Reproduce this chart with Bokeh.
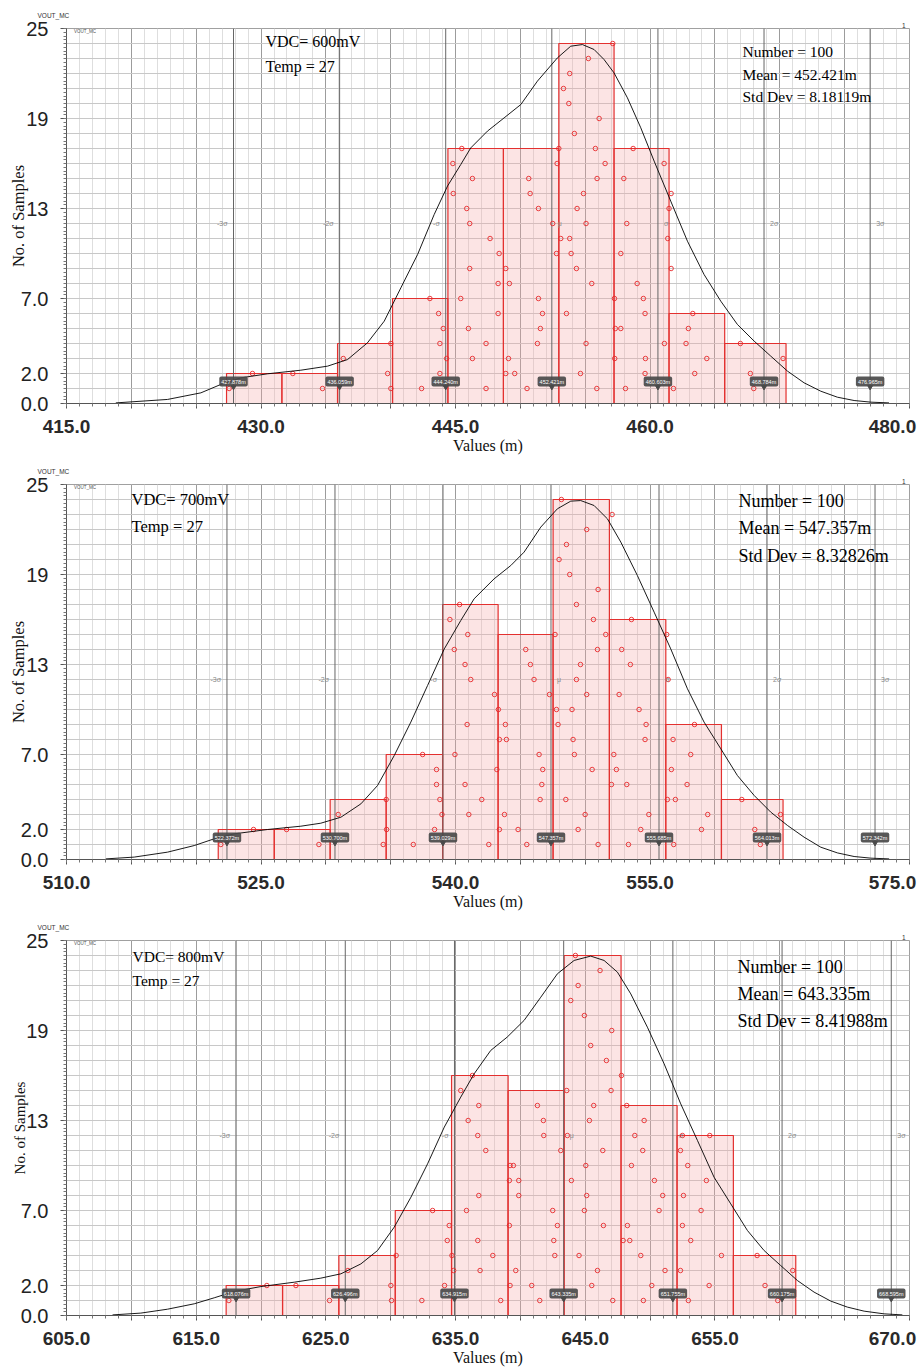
import math
from bokeh.plotting import figure
from bokeh.models import FixedTicker, Label, Range1d, Title, Legend, LegendItem
from bokeh.layouts import column
from bokeh.embed import file_html
from bokeh.resources import INLINE

# ---------------- shared ----------------
y_ticks = [0, 2, 7, 13, 19, 25]
y_tick_text = ["0.0", "2.0", "7.0", "13", "19", "25"]
sigma_k = [-3, -2, -1, 0, 1, 2, 3]
sigma_names = ["-3σ", "-2σ", "-σ", "μ", "σ", "2σ", "3σ"]
temp_text = "Temp = 27"
series_name = "VOUT_MC"
number_of_samples = 100

# ---------------- panel 1 : VDC 600 mV ----------------
p1_xrange = [415, 480]
p1_xtick_labels = [415, 430, 445, 460, 480]
p1_vdc = "VDC= 600mV"
p1_mean = 452.421
p1_std = 8.18119
p1_mean_text = "452.421m"
p1_std_text = "8.18119m"
p1_marker_text = ["427.878m", "436.059m", "444.240m", "452.421m", "460.603m", "468.784m", "476.965m"]
p1_bin_edges = [427.34, 431.61, 435.90, 440.14, 444.41, 448.69, 452.96, 457.22, 461.46, 465.75, 470.48]
p1_counts = [2, 2, 4, 7, 17, 17, 24, 17, 6, 4]
p1_pts_x = [429.34, 427.54,
            432.45, 434.74,
            436.34, 440.01, 439.76, 440.01,
            443.02, 443.69, 444.05, 443.79, 444.31, 443.79, 442.38,
            445.48, 444.79, 446.30, 444.82, 445.86, 446.09, 447.66, 448.36, 446.09, 448.28, 445.40, 448.28, 445.99, 447.35, 446.30, 447.35,
            452.96, 452.83, 450.64, 450.75, 451.39, 452.49, 452.78, 448.87, 449.15, 451.39, 451.70, 451.54, 451.31, 449.08, 448.87, 449.56, 450.51,
            457.12, 455.24, 453.80, 453.32, 453.73, 456.07, 454.16, 455.78, 456.53, 455.91, 454.86, 454.37, 455.06, 453.11, 453.80, 453.91, 454.32, 455.50, 453.55, 455.06, 454.63, 455.89,
            458.69, 461.08, 457.97, 461.62, 461.46, 458.20, 461.36, 457.74, 461.62, 459.00, 459.48, 457.25, 459.61, 457.32, 457.74, 461.10, 457.27, 459.64, 459.61, 458.10,
            463.29, 462.95, 462.77, 464.37, 463.44, 461.80,
            466.96, 470.25, 467.73, 467.99]
p1_pts_y = [2, 1,
            2, 1,
            3, 4, 2, 1,
            7, 6, 5, 4, 3, 2, 1,
            17, 16, 15, 14, 13, 12, 11, 10, 9, 8, 7, 6, 5, 4, 3, 1,
            17, 16, 15, 14, 13, 12, 10, 9, 8, 7, 6, 5, 4, 3, 2, 2, 1,
            24, 23, 22, 21, 20, 19, 18, 17, 16, 15, 14, 13, 12, 11, 11, 10, 9, 8, 6, 4, 2, 1,
            17, 16, 15, 14, 13, 12, 11, 10, 9, 8, 7, 7, 6, 5, 5, 4, 3, 3, 2, 1,
            6, 5, 4, 3, 2, 1,
            4, 3, 2, 1]
p1_curve_x = [418.8, 422.79, 425.36, 426.9, 428.44, 430.5, 433.07, 435.13, 436.67, 438.2, 439.5, 440.78,
              442.07, 443.35, 444.38, 445.40, 446.17, 447.46, 448.74, 450.03, 451.31, 452.85, 453.88, 454.78,
              455.68, 456.45, 457.22, 458.25, 459.28, 460.31, 461.59, 462.88, 464.16, 465.45, 466.73, 468.02,
              469.30, 470.59, 471.87, 473.16, 474.44, 475.73, 477.01, 478.42]
p1_curve_y = [0.04, 0.27, 0.71, 1.27, 1.71, 1.98, 2.22, 2.49, 2.93, 4.04, 5.49, 7.71,
              9.93, 12.6, 14.5, 15.93, 17.04, 18.16, 19.04, 19.93, 21.49, 23.04, 23.82, 23.93,
              23.6, 22.93, 22.04, 20.38, 18.38, 16.16, 13.49, 10.82, 8.6, 6.82, 5.27, 4.16,
              3.16, 2.16, 1.38, 0.82, 0.42, 0.2, 0.09, 0.04]

# ---------------- panel 2 : VDC 700 mV ----------------
p2_xrange = [510, 575]
p2_xtick_labels = [510, 525, 540, 555, 575]
p2_vdc = "VDC= 700mV"
p2_mean = 547.357
p2_std = 8.32826
p2_mean_text = "547.357m"
p2_std_text = "8.32826m"
p2_marker_text = ["522.372m", "530.700m", "539.029m", "547.357m", "555.685m", "564.013m", "572.342m"]
p2_bin_edges = [521.70, 526.02, 530.33, 534.65, 539.00, 543.28, 547.52, 551.86, 556.21, 560.50, 565.25]
p2_counts = [2, 2, 4, 7, 17, 15, 24, 16, 9, 4]
p2_pts_x = [524.42, 521.90,
            526.97, 529.46,
            530.95, 534.65, 534.68, 534.42,
            537.46, 538.53, 538.53, 538.79, 538.95, 538.38, 536.74,
            540.31, 539.56, 540.94, 539.90, 540.73, 541.17, 543.00, 540.89, 539.95, 543.18, 540.73, 542.02, 541.02, 542.56,
            545.41, 545.77, 546.05, 547.24, 543.30, 543.84, 543.38, 543.92, 546.44, 546.72, 546.65, 546.52, 543.77, 543.38, 544.82, 545.49,
            548.16, 552.07, 550.11, 548.55, 547.98, 548.80, 550.99, 549.32, 550.63, 551.58, 547.67, 550.94, 549.63, 549.32, 550.11, 547.78, 548.98, 547.90, 549.06, 549.16, 550.53, 548.50, 549.99, 549.45, 550.99,
            553.56, 556.28, 552.81, 553.48, 556.39, 552.61, 554.15, 554.69, 554.61, 552.20, 552.40, 552.02, 553.20, 554.90, 554.28, 553.33,
            558.42, 556.77, 558.13, 556.64, 557.85, 556.33, 556.95, 559.44, 558.96, 556.82,
            562.07, 565.05, 563.07, 563.50]
p2_pts_y = [2, 1,
            2, 1,
            3, 4, 2, 1,
            7, 6, 5, 4, 3, 2, 1,
            17, 16, 15, 14, 13, 12, 11, 9, 7, 6, 5, 4, 3, 1,
            14, 13, 12, 11, 10, 9, 8, 8, 7, 6, 5, 4, 3, 2, 2, 1,
            24, 23, 22, 21, 20, 19, 18, 17, 16, 15, 15, 14, 13, 12, 11, 10, 10, 9, 8, 7, 6, 4, 3, 2, 1,
            16, 15, 14, 13, 12, 11, 10, 9, 8, 7, 6, 5, 5, 3, 2, 1,
            9, 8, 7, 6, 5, 4, 4, 3, 2, 1,
            4, 3, 2, 1]
p2_curve_x = [513.03, 515.22, 517.79, 519.85, 521.39, 522.93, 525.50, 528.07, 529.61, 531.16, 532.70, 533.98,
              535.27, 536.55, 537.84, 539.13, 540.40, 541.43, 542.97, 544.26, 545.28, 546.57, 547.85, 548.88,
              549.65, 550.68, 551.71, 552.74, 554.02, 555.31, 556.59, 557.88, 559.16, 560.45, 561.73, 563.02,
              564.30, 565.59, 566.87, 568.16, 569.44, 570.73, 572.01, 573.43]
p2_curve_y = [0.04, 0.16, 0.49, 0.93, 1.38, 1.71, 2.0, 2.22, 2.42, 2.82, 3.71, 4.93,
              6.93, 9.16, 11.6, 14.04, 15.93, 17.38, 18.71, 19.6, 20.49, 22.16, 23.38, 23.89,
              23.93, 23.6, 22.71, 21.16, 18.93, 16.49, 14.04, 11.38, 9.16, 7.38, 5.6, 4.27,
              3.16, 2.27, 1.49, 0.82, 0.44, 0.2, 0.09, 0.04]

# ---------------- panel 3 : VDC 800 mV ----------------
p3_xrange = [605, 670]
p3_xtick_labels = [605, 615, 625, 635, 645, 655, 670]
p3_vdc = "VDC= 800mV"
p3_mean = 643.335
p3_std = 8.41988
p3_mean_text = "643.335m"
p3_std_text = "8.41988m"
p3_marker_text = ["618.076m", "626.496m", "634.915m", "643.335m", "651.755m", "660.175m", "668.595m"]
p3_bin_edges = [617.31, 621.66, 626.00, 630.35, 634.69, 639.05, 643.37, 647.76, 652.08, 656.42, 661.23]
p3_counts = [2, 2, 4, 7, 16, 15, 24, 14, 12, 4]
p3_pts_x = [620.45, 617.52,
            622.69, 625.28,
            626.70, 630.42, 630.01, 630.06,
            633.23, 634.51, 634.36, 634.72, 634.85, 634.15, 632.40,
            636.30, 635.40, 636.79, 635.97, 636.71, 637.33, 636.79, 635.84, 636.71, 637.87, 636.89, 638.48,
            641.31, 641.77, 641.80, 643.11, 639.20, 639.46, 639.15, 639.87, 639.87, 642.49, 642.85, 639.15, 642.57, 642.65, 639.64, 639.20, 640.87, 641.49,
            644.24, 646.14, 644.45, 643.88, 644.93, 647.04, 645.42, 646.63, 647.79, 643.57, 646.99, 645.65, 645.32, 643.62, 646.35, 645.04, 643.93, 645.11, 644.93, 646.40, 644.52, 645.94, 645.50, 647.12,
            648.20, 649.54, 648.82, 649.43, 648.56, 650.33, 650.97, 650.69, 648.25, 647.92, 648.43, 649.28, 651.15, 650.13, 649.48,
            652.49, 654.60, 652.34, 652.90, 654.34, 652.57, 653.93, 652.49, 653.13, 655.50, 652.34, 654.55, 652.95,
            658.25, 661.00, 658.86, 659.84]
p3_pts_y = [2, 1,
            2, 1,
            3, 4, 2, 1,
            7, 6, 5, 4, 3, 2, 1,
            16, 15, 14, 13, 12, 11, 8, 7, 5, 4, 3, 1,
            14, 13, 12, 11, 10, 10, 9, 9, 8, 7, 6, 6, 5, 4, 3, 2, 2, 1,
            24, 23, 22, 21, 20, 19, 18, 17, 16, 15, 15, 14, 13, 12, 11, 10, 9, 8, 7, 6, 4, 3, 2, 1,
            14, 13, 12, 11, 10, 9, 8, 7, 6, 5, 5, 4, 3, 2, 1,
            12, 12, 11, 10, 9, 8, 7, 6, 5, 4, 3, 2, 1,
            4, 3, 2, 1]
p3_curve_x = [608.55, 610.73, 612.79, 614.85, 616.39, 617.93, 619.99, 622.56, 624.61, 626.16, 627.70, 628.98,
              630.27, 631.56, 632.84, 634.13, 635.40, 636.43, 637.71, 638.98, 640.28, 641.57, 642.85, 644.14,
              645.42, 646.45, 647.48, 648.51, 649.79, 651.08, 652.36, 653.65, 654.93, 656.22, 657.50, 658.79,
              660.07, 661.36, 662.64, 663.93, 665.21, 666.50, 668.04, 669.45]
p3_curve_y = [0.04, 0.16, 0.42, 0.78, 1.18, 1.6, 1.93, 2.22, 2.49, 2.78, 3.44, 4.33,
              5.89, 7.89, 10.11, 12.56, 14.56, 16.11, 17.67, 18.56, 19.67, 21.22, 22.78, 23.67,
              23.96, 23.67, 22.89, 21.44, 19.22, 16.78, 14.11, 11.67, 9.22, 7.44, 5.67, 4.33,
              3.33, 2.33, 1.56, 0.96, 0.56, 0.29, 0.11, 0.04]

panels = [
    dict(xr=p1_xrange, xl=p1_xtick_labels, vdc=p1_vdc, mean=p1_mean, std=p1_std, mt=p1_mean_text,
         st=p1_std_text, mk=p1_marker_text, edges=p1_bin_edges, counts=p1_counts, px=p1_pts_x,
         py=p1_pts_y, cx=p1_curve_x, cy=p1_curve_y),
    dict(xr=p2_xrange, xl=p2_xtick_labels, vdc=p2_vdc, mean=p2_mean, std=p2_std, mt=p2_mean_text,
         st=p2_std_text, mk=p2_marker_text, edges=p2_bin_edges, counts=p2_counts, px=p2_pts_x,
         py=p2_pts_y, cx=p2_curve_x, cy=p2_curve_y),
    dict(xr=p3_xrange, xl=p3_xtick_labels, vdc=p3_vdc, mean=p3_mean, std=p3_std, mt=p3_mean_text,
         st=p3_std_text, mk=p3_marker_text, edges=p3_bin_edges, counts=p3_counts, px=p3_pts_x,
         py=p3_pts_y, cx=p3_curve_x, cy=p3_curve_y),
]

# layout: text centres in pixels relative to each panel's top-left corner
layouts = [
    dict(vdc=(265, 41, 16), temp=(265, 66, 16), sx=742, sc=(51, 73.5, 96), ss=15.5, ylab=16.5),
    dict(vdc=(131, 43, 16.5), temp=(131, 70, 16.5), sx=738, sc=(44, 71, 99), ss=18, ylab=16.5),
    dict(vdc=(132, 44, 15.5), temp=(132, 67.5, 15.5), sx=737, sc=(54, 81, 108), ss=18, ylab=15),
]

W, H = 921, 456
FL, FR, FT, FB = 66, 12, 28, 53
FW = W - FL - FR
FH = H - FT - FB
SANS = "Liberation Sans"
SERIF = "Liberation Serif"


def build(d, lay):
    x0, x1 = d["xr"]
    pxu = FW / float(x1 - x0)
    pyu = FH / 25.0

    def X(px):
        return x0 + (px - FL) / pxu

    def Y(py):
        return (H - FB - py) / pyu

    p = figure(width=W, height=H, x_range=Range1d(x0, x1), y_range=Range1d(0, 25),
               output_backend="svg", toolbar_location=None, title=None,
               min_border_left=FL, min_border_right=FR, min_border_top=FT, min_border_bottom=FB)
    p.background_fill_color = "white"
    p.border_fill_color = "white"
    p.outline_line_color = "#a0a0a0"

    majors = list(range(x0, x1 + 1, 5))
    minors = list(range(x0, x1 + 1))
    overrides = {}
    for t in majors:
        if t in d["xl"]:
            s = "%.1f" % t
            if t == x1:
                s = s + "\u00a0"
            overrides[t] = s
        else:
            overrides[t] = ""
    p.xaxis.ticker = FixedTicker(ticks=majors, minor_ticks=minors)
    p.xaxis.major_label_overrides = overrides
    p.xaxis.major_label_text_font = SANS
    p.xaxis.major_label_text_font_size = "19px"
    p.xaxis.major_label_text_font_style = "bold"
    p.xaxis.major_label_text_color = "#2a2a2a"
    p.xaxis.major_label_standoff = 7
    p.xaxis.major_tick_out = 5
    p.xaxis.major_tick_in = 0
    p.xaxis.minor_tick_out = 3
    p.xaxis.minor_tick_in = 0
    p.xaxis.axis_line_color = "#555555"
    p.xaxis.major_tick_line_color = "#555555"
    p.xaxis.minor_tick_line_color = "#777777"
    p.xaxis.axis_label = "Values (m)"
    p.xaxis.axis_label_text_font = SERIF
    p.xaxis.axis_label_text_font_size = "16px"
    p.xaxis.axis_label_text_font_style = "normal"
    p.xaxis.axis_label_text_color = "#111111"
    p.xaxis.axis_label_standoff = -3

    p.yaxis.ticker = FixedTicker(ticks=y_ticks, minor_ticks=[i * 0.25 for i in range(101)])
    p.yaxis.major_label_overrides = {t: s for t, s in zip(y_ticks, y_tick_text)}
    p.yaxis.major_label_text_font = SANS
    p.yaxis.major_label_text_font_size = "20px"
    p.yaxis.major_label_text_color = "#222222"
    p.yaxis.major_label_standoff = 12
    p.yaxis.major_tick_out = 6
    p.yaxis.major_tick_in = 0
    p.yaxis.minor_tick_out = 3
    p.yaxis.minor_tick_in = 0
    p.yaxis.axis_line_color = "#555555"
    p.yaxis.major_tick_line_color = "#555555"
    p.yaxis.minor_tick_line_color = "#777777"
    p.yaxis.axis_label = "No. of Samples"
    p.yaxis.axis_label_text_font = SERIF
    p.yaxis.axis_label_text_font_size = "%spx" % lay["ylab"]
    p.yaxis.axis_label_text_font_style = "normal"
    p.yaxis.axis_label_text_color = "#111111"
    p.yaxis.axis_label_standoff = -10

    p.xgrid.ticker = FixedTicker(ticks=majors, minor_ticks=minors)
    p.xgrid.grid_line_color = "#9c9c9c"
    p.xgrid.minor_grid_line_color = "#dedede"
    p.ygrid.ticker = FixedTicker(ticks=list(range(26)))
    p.ygrid.grid_line_color = "#c8c8c8"

    # histogram bars
    e = d["edges"]
    p.quad(left=e[:-1], right=e[1:], bottom=[0] * len(d["counts"]), top=d["counts"],
           fill_color="#f4a6a6", fill_alpha=0.3, line_color="#e3302f", line_width=1.2)

    # sigma lines
    xs = [d["mean"] + k * d["std"] for k in sigma_k]
    p.segment(x0=xs, y0=[0] * len(xs), x1=xs, y1=[25] * len(xs), line_color="#666666", line_width=1)

    # sample points
    p.scatter(d["px"], d["py"], marker="circle", size=4.5, fill_alpha=0,
              line_color="#e8282a", line_width=0.9)

    # density curve
    p.line(d["cx"], d["cy"], line_color="black", line_width=0.9)

    # marker value labels
    p.scatter(xs, [Y(386.5)] * len(xs), marker="inverted_triangle", size=5, color="#4a4a4a")
    for xv, t in zip(xs, d["mk"]):
        kw = dict(x=xv, y=Y(381), text=t, text_font=SANS, text_font_size="5.5px",
                  text_color="white", text_align="center", text_baseline="middle",
                  background_fill_color="#4a4a4a", background_fill_alpha=0.92)
        try:
            lab = Label(padding=2, border_radius=2, **kw)
        except Exception:
            lab = Label(**kw)
        p.add_layout(lab)

    # sigma names
    for xv, k, nm in zip(xs, sigma_k, sigma_names):
        if k < 0:
            p.add_layout(Label(x=xv, y=12, x_offset=-6, text=nm, text_font=SANS, text_font_size="7px",
                               text_color="#8a8a8a", text_align="right", text_baseline="middle"))
        else:
            p.add_layout(Label(x=xv, y=12, x_offset=6, text=nm, text_font=SANS, text_font_size="7px",
                               text_color="#8a8a8a", text_align="left", text_baseline="middle"))

    # legend at the top-left corner of the frame
    key = p.quad(left=[], right=[], top=[], bottom=[], fill_color="#e00000", line_color="#e00000")
    leg = Legend(items=[LegendItem(label=series_name, renderers=[key])], orientation="horizontal",
                 location="top_left", label_text_font=SANS, label_text_font_size="4.5px",
                 label_text_color="#555555", glyph_width=5, glyph_height=4, label_height=4,
                 label_standoff=2, padding=0, margin=1, spacing=0,
                 border_line_alpha=0, background_fill_alpha=0)
    p.add_layout(leg)

    # header texts
    p.add_layout(Title(text="1", align="right", offset=4, standoff=1, text_font=SANS,
                       text_font_size="6.5px", text_font_style="normal", text_color="#333333"), "above")
    p.add_layout(Title(text=series_name, align="left", offset=-29, standoff=3, text_font=SANS,
                       text_font_size="6.5px", text_font_style="normal", text_color="#333333"), "above")

    # annotations inside the frame
    vx, vy, vs = lay["vdc"]
    p.add_layout(Label(x=X(vx), y=Y(vy), text=d["vdc"], text_font=SERIF, text_font_size="%spx" % vs,
                       text_color="black", text_baseline="middle"))
    tx, ty, ts = lay["temp"]
    p.add_layout(Label(x=X(tx), y=Y(ty), text=temp_text, text_font=SERIF, text_font_size="%spx" % ts,
                       text_color="black", text_baseline="middle"))
    stats = ["Number = %d" % number_of_samples, "Mean = " + d["mt"], "Std Dev = " + d["st"]]
    for s, c in zip(stats, lay["sc"]):
        p.add_layout(Label(x=X(lay["sx"]), y=Y(c), text=s, text_font=SERIF,
                           text_font_size="%spx" % lay["ss"], text_color="black",
                           text_baseline="middle"))
    return p


figs = [build(d, l) for d, l in zip(panels, layouts)]
page = column(*figs, spacing=0)
open("out.html", "w").write(file_html(page, INLINE))
